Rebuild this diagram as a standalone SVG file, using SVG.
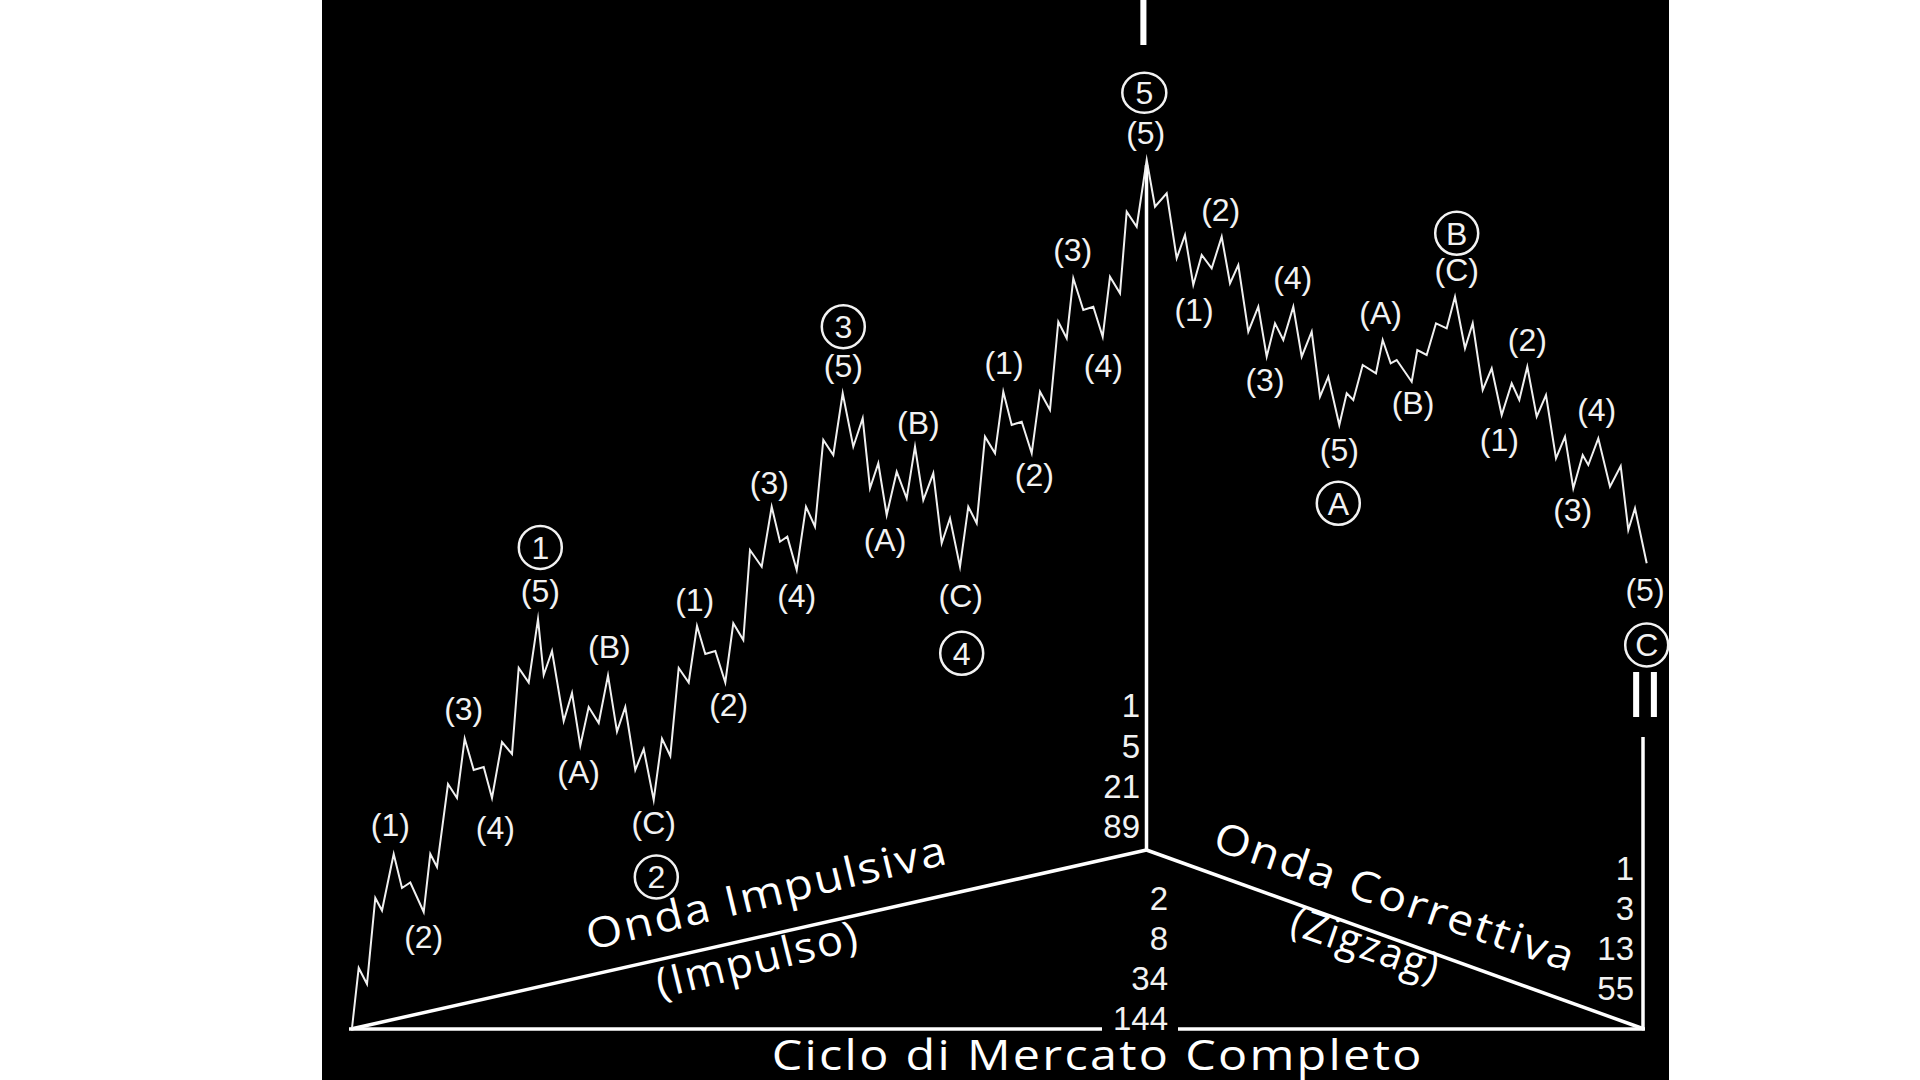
<svg xmlns="http://www.w3.org/2000/svg" width="1920" height="1080" viewBox="0 0 1920 1080">
<style>
.w{fill:none;stroke:#f0f0f0;stroke-width:2;stroke-linejoin:miter;stroke-miterlimit:10}
.ax{fill:none;stroke:#ffffff;stroke-width:3.5;stroke-linecap:butt}
.lb{font-family:"Liberation Sans",Arial,sans-serif;font-size:32px;fill:#f2f2f2;text-anchor:middle}
.ci{font-family:"Liberation Sans",Arial,sans-serif;font-size:32px;fill:#f2f2f2;text-anchor:middle}
.cc{fill:none;stroke:#f2f2f2;stroke-width:2.5}
.nm{font-family:"Liberation Sans",Arial,sans-serif;font-size:33px;fill:#f2f2f2;text-anchor:end}
.rn{font-family:"Liberation Sans",Arial,sans-serif;font-size:64px;fill:#ffffff;text-anchor:middle}
.bg{font-family:"Open Sans","Liberation Sans",sans-serif;font-size:42px;fill:#ffffff;letter-spacing:2px}
</style>
<rect x="0" y="0" width="1920" height="1080" fill="#ffffff"/>
<rect x="322" y="0" width="1347" height="1080" fill="#000000"/>

<g id="connectors">
<line class="ax" x1="349" y1="1029" x2="1102" y2="1029"/>
<line class="ax" x1="1178" y1="1029" x2="1645" y2="1029"/>
<line class="ax" x1="351" y1="1029" x2="1146.5" y2="850" stroke-width="4"/>
<line class="ax" x1="1146.5" y1="850" x2="1644" y2="1029" stroke-width="4"/>
<line class="ax" x1="1146.5" y1="165" x2="1146.5" y2="851" stroke-width="3"/>
<line class="ax" x1="1643" y1="737" x2="1643" y2="1030"/>
</g>

<g id="wave">
<polyline class="w" points="352,1028 358.7,968 367,984 375.3,898 382,910.5 393.7,854 402,888 410.3,882.5 423.7,912 430.3,854 437,867 448,784 457,798 464.7,738.6 473.7,770 483.7,767 492,798 502,742 512,754 518.7,668 528.7,682.5 538,619 543.7,675 552,651 563.7,721 572,693 580.3,745.6 588.7,707 598.7,723 608,675.4 617,731.6 625.3,707 635.3,770 643.7,749 653.7,800 662,738.6 670.3,756 678.7,668 688.7,682.5 697,626 705.3,654 715.3,651 725.3,682.5 733.3,623.3 743.3,640 750,550 761.7,566.7 771.7,506.7 780,541.7 787.3,536.7 796.7,570 806,506.7 815,526.7 823.3,440 833.3,455 842.7,393.3 853.3,446.7 862.7,418.3 870,488.3 878.3,463.3 886.7,515 896.7,471.7 906.7,498.3 915,446.7 923.3,500 933.3,473.3 941.7,543.3 950,518.3 960,566.7 968.3,506.7 976.7,523.3 985,436.7 995,453.3 1003.3,391.7 1011.7,425 1021.7,421.7 1031.7,453.3 1040,391.7 1050,410 1058.3,321.7 1066.7,338.3 1073.3,278.3 1083.3,310 1093.3,306.7 1102.7,336.7 1110,276.7 1120,293.3 1126.7,211.7 1136.7,226.7 1146.7,160 1155,206.7 1166.7,193.3 1176.7,258.3 1185,235 1193.3,285 1201.7,255 1211.7,268.3 1221.7,236.7 1230,283.3 1238.3,265 1248.3,331.7 1258.3,306.7 1266.7,356.7 1275,323.3 1283.3,340 1293.3,306.7 1301.7,356.7 1311.7,331.7 1320,396.7 1328.3,376.7 1339.3,425 1346.7,393.3 1353.3,400 1362.7,365 1376,373.3 1382.7,340 1390.7,363.3 1396.7,360 1411.7,381.7 1417.3,350 1426.7,355 1436,323.3 1446.7,328.3 1455,296.7 1465,348.3 1472.7,323.3 1482.7,390 1491.7,368.3 1501.7,415 1511.7,383.3 1519.3,400 1527.3,366.7 1536.7,416.7 1546,395 1556,458.3 1565,436.7 1573.3,488.3 1582.7,455 1588.3,465 1598.3,438.3 1610,486.7 1620.7,466 1628.3,530 1635,508.3 1646.7,563.3"/>
</g>

<g id="wave-labels">
<text class="lb" x="390.3" y="836">(1)</text>
<text class="lb" x="423.7" y="948">(2)</text>
<text class="lb" x="463.7" y="720">(3)</text>
<text class="lb" x="495.3" y="839">(4)</text>
<text class="lb" x="540.3" y="602">(5)</text>
<text class="lb" x="578.7" y="783">(A)</text>
<text class="lb" x="609.3" y="658">(B)</text>
<text class="lb" x="653.7" y="834">(C)</text>
<text class="lb" x="694.7" y="611">(1)</text>
<text class="lb" x="728.7" y="716">(2)</text>
<text class="lb" x="769.3" y="494">(3)</text>
<text class="lb" x="796.7" y="607">(4)</text>
<text class="lb" x="843.3" y="377">(5)</text>
<text class="lb" x="885" y="551">(A)</text>
<text class="lb" x="918.3" y="434">(B)</text>
<text class="lb" x="960.7" y="607">(C)</text>
<text class="lb" x="1004" y="374">(1)</text>
<text class="lb" x="1034.3" y="486">(2)</text>
<text class="lb" x="1072.7" y="261">(3)</text>
<text class="lb" x="1103.3" y="377">(4)</text>
<text class="lb" x="1145.7" y="144">(5)</text>
<text class="lb" x="1194" y="321">(1)</text>
<text class="lb" x="1220.7" y="221">(2)</text>
<text class="lb" x="1265" y="391">(3)</text>
<text class="lb" x="1292.7" y="289">(4)</text>
<text class="lb" x="1339.3" y="461">(5)</text>
<text class="lb" x="1380.7" y="324">(A)</text>
<text class="lb" x="1413" y="414">(B)</text>
<text class="lb" x="1456.7" y="281">(C)</text>
<text class="lb" x="1499.3" y="451">(1)</text>
<text class="lb" x="1527.3" y="351">(2)</text>
<text class="lb" x="1572.7" y="521">(3)</text>
<text class="lb" x="1596.7" y="421">(4)</text>
<text class="lb" x="1645" y="601">(5)</text>
</g>

<g id="circled-1"><circle class="cc" cx="540.3" cy="547.4" r="21.5"/><text class="ci" x="540.3" y="558.8">1</text></g>
<g id="circled-2"><circle class="cc" cx="656.3" cy="877" r="21.5"/><text class="ci" x="656.3" y="888.4">2</text></g>
<g id="circled-3"><circle class="cc" cx="843.3" cy="326.7" r="21.5"/><text class="ci" x="843.3" y="338.1">3</text></g>
<g id="circled-4"><circle class="cc" cx="961.7" cy="653.3" r="21.5"/><text class="ci" x="961.7" y="664.7">4</text></g>
<g id="circled-5"><ellipse class="cc" cx="1144.3" cy="92.7" rx="22" ry="20"/><text class="ci" x="1144.3" y="104.1">5</text></g>
<g id="circled-A"><circle class="cc" cx="1338.3" cy="503.3" r="21.5"/><text class="ci" x="1338.3" y="514.7">A</text></g>
<g id="circled-B"><circle class="cc" cx="1456.7" cy="233.3" r="21.5"/><text class="ci" x="1456.7" y="244.7">B</text></g>
<g id="circled-C"><circle class="cc" cx="1646.7" cy="645" r="21.5"/><text class="ci" x="1646.7" y="656.4">C</text></g>

<g id="roman">
<text class="rn" x="1143.5" y="45">I</text>
<text class="rn" x="1645" y="717" font-size="62">II</text>
</g>

<g id="fib-numbers">
<text class="nm" x="1140" y="717">1</text>
<text class="nm" x="1140" y="758">5</text>
<text class="nm" x="1140" y="798">21</text>
<text class="nm" x="1140" y="838">89</text>
<text class="nm" x="1168" y="910">2</text>
<text class="nm" x="1168" y="950">8</text>
<text class="nm" x="1168" y="990">34</text>
<text class="nm" x="1168" y="1030">144</text>
<text class="nm" x="1634" y="880">1</text>
<text class="nm" x="1634" y="920">3</text>
<text class="nm" x="1634" y="960">13</text>
<text class="nm" x="1634" y="1000">55</text>
</g>

<g id="titles">
<text class="bg" transform="translate(590,950.3) rotate(-13.6)" textLength="371" lengthAdjust="spacingAndGlyphs">Onda Impulsiva</text>
<text class="bg" transform="translate(660,998.3) rotate(-13.9)" textLength="208" lengthAdjust="spacingAndGlyphs">(Impulso)</text>
<text class="bg" transform="translate(1211,849) rotate(19)" textLength="380" lengthAdjust="spacingAndGlyphs">Onda Correttiva</text>
<text class="bg" transform="translate(1288,933) rotate(19)" textLength="155" lengthAdjust="spacingAndGlyphs" letter-spacing="0">(Zigzag)</text>
<text class="bg" x="771.7" y="1070" font-size="45" textLength="652" lengthAdjust="spacingAndGlyphs">Ciclo di Mercato Completo</text>
</g>
</svg>
